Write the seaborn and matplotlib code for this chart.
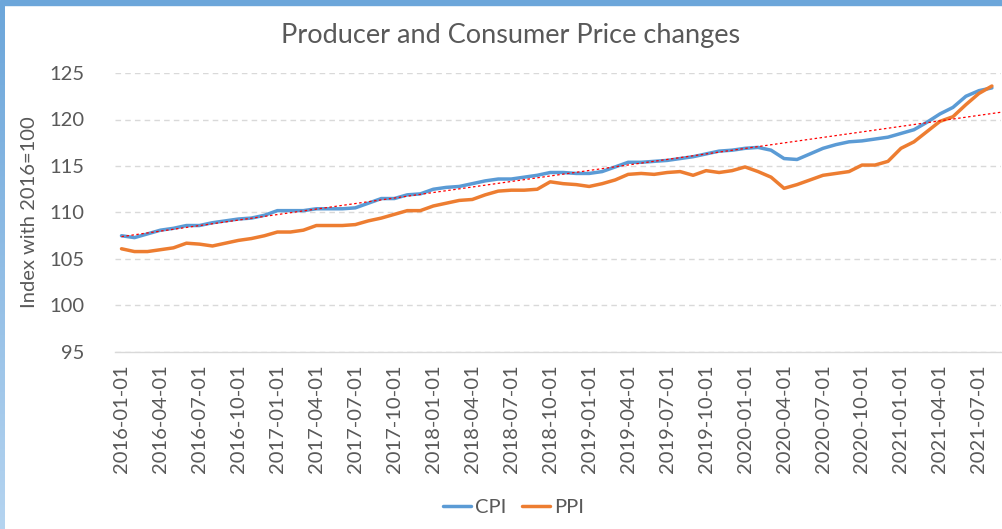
import numpy as np
import pandas as pd
import matplotlib
matplotlib.use("Agg")
import matplotlib.pyplot as plt
import seaborn as sns
from matplotlib.patches import Rectangle

# monthly index values, 2016-01 .. 2021-08
dates = pd.date_range("2016-01-01", periods=68, freq="MS")

cpi = [107.5, 107.3, 107.7, 108.1, 108.3, 108.6, 108.6, 108.9, 109.1, 109.3,
       109.4, 109.7, 110.2, 110.2, 110.2, 110.4, 110.4, 110.4, 110.5, 111.0,
       111.5, 111.5, 111.9, 112.0, 112.5, 112.7, 112.8, 113.1, 113.4, 113.6,
       113.6, 113.8, 114.0, 114.3, 114.3, 114.2, 114.2, 114.4, 114.9, 115.4,
       115.4, 115.5, 115.6, 115.8, 116.0, 116.3, 116.6, 116.7, 116.9, 117.0,
       116.7, 115.8, 115.7, 116.3, 116.9, 117.3, 117.6, 117.7, 117.9, 118.1,
       118.5, 118.9, 119.7, 120.6, 121.3, 122.5, 123.1, 123.4]

ppi = [106.1, 105.8, 105.8, 106.0, 106.2, 106.7, 106.6, 106.4, 106.7, 107.0,
       107.2, 107.5, 107.9, 107.9, 108.1, 108.6, 108.6, 108.6, 108.7, 109.1,
       109.4, 109.8, 110.2, 110.2, 110.7, 111.0, 111.3, 111.4, 111.9, 112.3,
       112.4, 112.4, 112.5, 113.3, 113.1, 113.0, 112.8, 113.1, 113.5, 114.1,
       114.2, 114.1, 114.3, 114.4, 114.0, 114.5, 114.3, 114.5, 114.9, 114.4,
       113.8, 112.6, 113.0, 113.5, 114.0, 114.2, 114.4, 115.1, 115.1, 115.5,
       116.9, 117.6, 118.7, 119.8, 120.3, 121.6, 122.8, 123.6]

tick_labels = [d.strftime("%Y-%m-%d") for d in dates[::3]]

df = pd.DataFrame({"pos": np.arange(len(dates)), "CPI": cpi, "PPI": ppi})
long_df = df.melt(id_vars="pos", var_name="series", value_name="value")

sns.set_style("white")
plt.rcParams["font.family"] = ["Lato", "DejaVu Sans"]
text_col = "#595959"

fig = plt.figure(figsize=(10.03, 5.29), dpi=100)
ax = fig.add_axes([115 / 1003, (529 - 352) / 529, 886 / 1003, (352 - 73) / 529])

sns.lineplot(data=long_df, x="pos", y="value", hue="series",
             palette={"CPI": "#5B9BD5", "PPI": "#ED7D31"},
             linewidth=2.5, ax=ax, zorder=3)

# linear trendline on CPI
coef = np.polyfit(df["pos"], df["CPI"], 1)
tx = np.array([0, len(dates) - 0.3])
ax.plot(tx, np.polyval(coef, tx), color="#FF0000", lw=0.9,
        linestyle=(0, (2, 2)), zorder=4)

ax.set_xlim(-0.5, len(dates) - 0.3)
ax.set_ylim(95, 125)
ax.set_yticks(range(95, 126, 5))
ax.set_xticks(np.arange(0, len(dates), 3))
ax.set_xticklabels(tick_labels, rotation=90)
ax.tick_params(axis="both", length=0, labelsize=14.5, colors=text_col)
ax.tick_params(axis="x", pad=9)
ax.tick_params(axis="y", pad=22)

ax.yaxis.grid(True, color="#D9D9D9", linestyle=(0, (4, 3)), lw=1)
ax.set_axisbelow(True)
for s in ["top", "right", "left"]:
    ax.spines[s].set_visible(False)
ax.spines["bottom"].set_color("#D9D9D9")
ax.spines["bottom"].set_linewidth(1)

ax.set_xlabel("")
ax.set_ylabel("Index with 2016=100", fontsize=14.5, color=text_col, labelpad=8)

fig.text(0.509, 1 - 35 / 529, "Producer and Consumer Price changes",
         ha="center", va="center", fontsize=19.5, color=text_col)

leg = ax.legend(loc="center", bbox_to_anchor=(0.512, 22 / 529),
                bbox_transform=fig.transFigure, ncol=2, frameon=False,
                fontsize=14.5, handlelength=1.4, handletextpad=0.2,
                columnspacing=0.8)
for t in leg.get_texts():
    t.set_color(text_col)

# blue screenshot border (top and left)
fig.patches.append(Rectangle((0, 1 - 5 / 529), 1, 5 / 529,
                             transform=fig.transFigure, color="#6CA6DA",
                             zorder=10))
gax = fig.add_axes([0, 0, 5 / 1003, 1 - 5 / 529])
grad = np.linspace(0, 1, 256).reshape(-1, 1)
cmap = matplotlib.colors.LinearSegmentedColormap.from_list(
    "b", ["#6CA6DA", "#B5D4F0"])
gax.imshow(grad, aspect="auto", cmap=cmap)
gax.axis("off")

fig.savefig("out.png", dpi=100)
